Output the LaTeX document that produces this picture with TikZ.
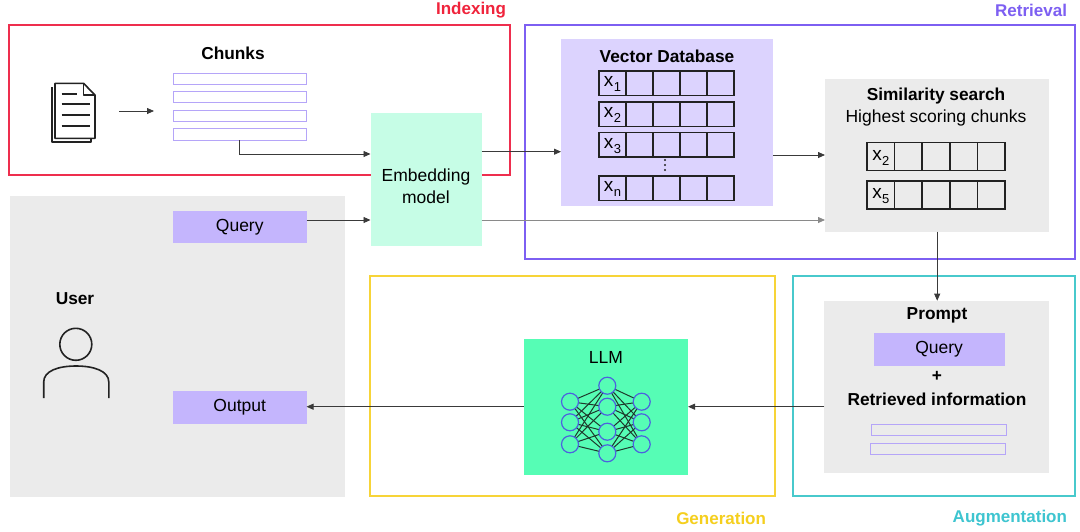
\documentclass[tikz,border=0pt]{standalone}
\usepackage{fontspec}
\setmainfont{Liberation Sans}
\usetikzlibrary{arrows.meta}
\definecolor{idxred}{HTML}{EE2E4E}
\definecolor{idxtxt}{HTML}{F0243C}
\definecolor{retpur}{HTML}{7D5FF2}
\definecolor{gencol}{HTML}{F7D438}
\definecolor{gentxt}{HTML}{F5CF1E}
\definecolor{augcol}{HTML}{48C9CC}
\definecolor{augtxt}{HTML}{3EC5D0}
\definecolor{lav}{HTML}{DCD3FE}
\definecolor{qfill}{HTML}{C4B5FD}
\definecolor{chunkline}{HTML}{B5A5F8}
\definecolor{graybg}{HTML}{EBEBEB}
\definecolor{embfill}{HTML}{C6FDE6}
\definecolor{llmfill}{HTML}{56FDB5}
\definecolor{neuron}{HTML}{4C62DE}
\definecolor{synapse}{HTML}{1E3A2C}
\definecolor{inkdark}{HTML}{222222}
\definecolor{arrowc}{HTML}{3A3A3A}
\definecolor{arrowlight}{HTML}{8A8A8A}
\newcommand{\xs}[1]{x\kern0.3pt\raisebox{-5pt}{\fontsize{13}{13}\selectfont #1}}
\newcommand{\vecrow}[6]{% name, x, y, cell width, height, label
  \foreach \i in {0,...,4} {\draw[cellst] ({#2+\i*#4},#3) rectangle ++(#4,#5);}
  \node[font=\fontsize{19}{19}\selectfont] (#1) at ({#2+0.5*#4},{#3+0.5*#5+1}) {#6};
}
\begin{document}
\begin{tikzpicture}[x=1pt,y=-1pt,
  every node/.style={inner sep=0pt, outer sep=0pt},
  txt/.style={font=\fontsize{17.5}{21}\selectfont},
  btxt/.style={font=\bfseries\fontsize{17.3}{21}\selectfont},
  sectlbl/.style={font=\bfseries\fontsize{17}{20}\selectfont},
  frame/.style={draw, line width=1.3pt, anchor=north west},
  fillbox/.style={anchor=north west},
  chunkst/.style={draw=chunkline, line width=1pt, fill=white},
  cellst/.style={draw=inkdark, line width=1.7pt},
  arr/.style={draw=arrowc, line width=0.8pt, -{Triangle[length=7pt,width=6pt]}},
  arrl/.style={draw=arrowlight, line width=0.8pt, -{Triangle[length=7pt,width=6pt]}},
  neur/.style={draw=neuron, line width=1.2pt, fill=llmfill},
  syn/.style={draw=synapse, line width=1pt}
]
\useasboundingbox[fill=white] (0,0) rectangle (1080,531);

% ---------- section frames ----------
\node[frame, draw=idxred, minimum width=501, minimum height=150] (indexing) at (9,25) {};
\node[frame, draw=retpur, minimum width=550, minimum height=234] (retrieval) at (525,25) {};
\node[frame, draw=gencol, minimum width=405, minimum height=220] (generation) at (370,276) {};
\node[frame, draw=augcol, minimum width=282, minimum height=220] (augmentation) at (793,276) {};
\node[sectlbl, text=idxtxt, anchor=east] (indexinglbl) at (506,10) {Indexing};
\node[sectlbl, text=retpur, anchor=east] (retrievallbl) at (1067,10) {Retrieval};
\node[sectlbl, text=gentxt, anchor=east] (generationlbl) at (766,518) {Generation};
\node[sectlbl, text=augtxt, anchor=east] (augmentationlbl) at (1067,518) {Augmentation};

% ---------- document icon ----------
\draw[inkdark, line width=1.6pt, line join=round] (51.7,87) -- (51.7,141.7) -- (91,141.7) -- (91,138.3);
\draw[inkdark, line width=1.6pt, line join=round, fill=white] (55,83.3) -- (83.5,83.3) -- (95,95) -- (95,138.3) -- (55,138.3) -- cycle;
\draw[inkdark, line width=1.3pt, line join=round] (83.5,83.3) -- (83.5,95) -- (95,95);
\draw[inkdark, line width=1.8pt] (61.7,94) -- (76.7,94);
\draw[inkdark, line width=1.8pt] (61.7,104.3) -- (90,104.3);
\draw[inkdark, line width=1.8pt] (61.7,115) -- (90,115);
\draw[inkdark, line width=1.8pt] (61.7,126) -- (90,126);
\coordinate (docR) at (119.3,111);
\coordinate (chunksL) at (154,111);
\draw[arr] (docR) -- (chunksL);

% ---------- chunks ----------
\node[btxt] (chunkstitle) at (233,53) {Chunks};
\node[chunkst, fillbox, minimum width=133.5, minimum height=11.3] (c1) at (173,73) {};
\node[chunkst, fillbox, minimum width=133.5, minimum height=11.3] (c2) at (173,91.3) {};
\node[chunkst, fillbox, minimum width=133.5, minimum height=11.3] (c3) at (173,110) {};
\node[chunkst, fillbox, minimum width=133.5, minimum height=11.3] (c4) at (173,128.7) {};

% ---------- user ----------
\node[fillbox, fill=graybg, minimum width=335.4, minimum height=300.7] (user) at (9.6,196) {};
\node[btxt] (userlbl) at (75,298.3) {User};
\node[draw=inkdark, line width=1.6pt, circle, minimum size=32] (head) at (75.8,344.3) {};
\draw[inkdark, line width=1.6pt] (43.7,398) -- (43.7,382) .. controls (43.7,371) and (58,366) .. (76,366) .. controls (94,366) and (108.8,371) .. (108.8,382) -- (108.8,398);
\node[txt, fillbox, fill=qfill, minimum width=133.5, minimum height=32.6] (query) at (173,210.7) {};
\node[txt] (querylbl) at (query.center) {Query};
\node[txt, fillbox, fill=qfill, minimum width=133.5, minimum height=33.3] (output) at (173,390.7) {};
\node[txt] (outputlbl) at (output.center) {Output};

% ---------- embedding ----------
\node[fillbox, fill=embfill, minimum width=111, minimum height=133.3] (emb) at (370.5,112.7) {};
\node[txt, align=center] (emblbl) at (426,186) {Embedding\\[1pt]model};

% ---------- vector database ----------
\node[fillbox, fill=lav, minimum width=212, minimum height=166.7] (vdb) at (561,39.3) {};
\node[btxt] (vdbtitle) at (667,56) {Vector Database};
\vecrow{r1}{599}{71}{27}{24.5}{\xs{1}}
\vecrow{r2}{599}{102}{27}{24.5}{\xs{2}}
\vecrow{r3}{599}{132.5}{27}{24.5}{\xs{3}}
\vecrow{rn}{599}{176}{27}{24.5}{\xs{n}}
\fill[inkdark] (665,160) circle (1.1) (665,165) circle (1.1) (665,170) circle (1.1);

% ---------- similarity search ----------
\node[fillbox, fill=graybg, minimum width=224.4, minimum height=152.7] (sim) at (825,79) {};
\node[btxt] (simtitle) at (936,96) {Similarity search};
\node[txt] (simsub) at (936,118.3) {Highest scoring chunks};
\vecrow{s1}{867}{142.5}{27.6}{28}{\xs{2}}
\vecrow{s2}{867}{181}{27.6}{28}{\xs{5}}

% ---------- prompt ----------
\node[fillbox, fill=graybg, minimum width=224.3, minimum height=172.6] (prompt) at (824.4,300.7) {};
\node[btxt] (prompttitle) at (937,315) {Prompt};
\node[fillbox, fill=qfill, minimum width=131, minimum height=32.7] (query2) at (873.6,333.3) {};
\node[txt] (query2lbl) at (query2.center) {Query};
\node[btxt] (plus) at (937,376) {+};
\node[btxt] (retrinfo) at (937,399.3) {Retrieved information};
\node[draw=chunkline, line width=1pt, fillbox, minimum width=134.6, minimum height=11.4] (ri1) at (871.8,424.3) {};
\node[draw=chunkline, line width=1pt, fillbox, minimum width=134.6, minimum height=11] (ri2) at (870.7,443.3) {};

% ---------- LLM ----------
\node[fillbox, fill=llmfill, minimum width=164.4, minimum height=135.7] (llm) at (523.6,339.3) {};
\node[txt] (llmlbl) at (606,357) {LLM};
\foreach \a/\ay in {1/401.7,2/422.3,3/444.3}{
  \foreach \b/\by in {1/385.7,2/406.7,3/431.7,4/453.3}{
    \draw[syn] (570,\ay) -- (607.3,\by);
    \draw[syn] (607.3,\by) -- (641.7,\ay);
  }
}
\foreach \a/\ay in {1/401.7,2/422.3,3/444.3}{
  \node[neur, circle, minimum size=17] (inL\a) at (570,\ay) {};
  \node[neur, circle, minimum size=17] (outR\a) at (641.7,\ay) {};
}
\foreach \b/\by in {1/385.7,2/406.7,3/431.7,4/453.3}{
  \node[neur, circle, minimum size=17] (hid\b) at (607.3,\by) {};
}

% ---------- connectors ----------
\draw[arr] (c4.south) |- (emb.west |- 0,154);
\draw[arr] (query.east |- 0,220) -- (emb.west |- 0,220);
\draw[arr] (emb.east |- 0,151.7) -- (vdb.west |- 0,151.7);
\draw[arrl] (emb.east |- 0,220) -- (sim.west |- 0,220);
\draw[arr] (vdb.east |- 0,155) -- (sim.west |- 0,155);
\draw[arr] (sim.south) -- (sim.south |- prompt.north);
\draw[arr] (prompt.west |- 0,406.7) -- (llm.east |- 0,406.7);
\draw[arr] (llm.west |- 0,406.7) -- (output.east |- 0,406.7);
\end{tikzpicture}
\end{document}
